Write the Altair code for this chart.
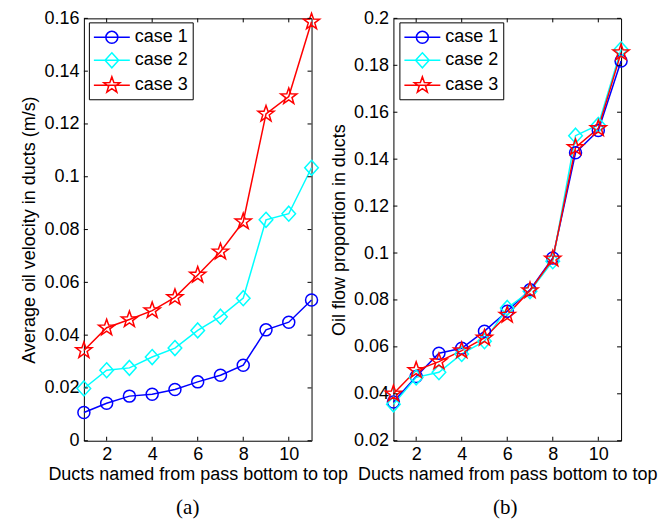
import math
import altair as alt
import pandas as pd

# ---------------- data ----------------
ducts = list(range(1, 12))
cases = ["case 1", "case 2", "case 3"]
colors = ["#0000ff", "#00ffff", "#ff0000"]

vel_case1 = [0.0107, 0.0142, 0.0169, 0.0176, 0.0194, 0.0223, 0.0248, 0.0286, 0.0420, 0.0449, 0.0533]
vel_case2 = [0.0198, 0.0267, 0.0276, 0.0317, 0.0351, 0.0418, 0.0470, 0.0540, 0.0837, 0.0860, 0.1034]
vel_case3 = [0.0342, 0.0428, 0.0459, 0.0493, 0.0543, 0.0628, 0.0716, 0.0830, 0.1238, 0.1304, 0.1587]

prop_case1 = [0.0365, 0.0474, 0.0573, 0.0594, 0.0667, 0.0752, 0.0843, 0.0979, 0.1427, 0.1522, 0.1818]
prop_case2 = [0.0355, 0.0470, 0.0492, 0.0570, 0.0624, 0.0766, 0.0837, 0.0965, 0.1500, 0.1546, 0.1868]
prop_case3 = [0.0400, 0.0500, 0.0537, 0.0584, 0.0638, 0.0736, 0.0840, 0.0975, 0.1450, 0.1531, 0.1854]

x_ticks = [2, 4, 6, 8, 10]
vel_ticks = [0, 0.02, 0.04, 0.06, 0.08, 0.1, 0.12, 0.14, 0.16]
prop_ticks = [0.02, 0.04, 0.06, 0.08, 0.1, 0.12, 0.14, 0.16, 0.18, 0.2]


def long_df(series):
    rows = []
    for c, vals in zip(cases, series):
        for d, v in zip(ducts, vals):
            rows.append({"duct": d, "case": c, "value": v})
    return pd.DataFrame(rows)


vel_df = long_df([vel_case1, vel_case2, vel_case3])
prop_df = long_df([prop_case1, prop_case2, prop_case3])

# ---------------- marker shapes (unit = 10 px at size 400) ----------------
def circle_path(cx, r):
    return (f"M{cx - r:.3f},0A{r},{r},0,1,0,{cx + r:.3f},0"
            f"A{r},{r},0,1,0,{cx - r:.3f},0Z")


def diamond_path(cx, w, h):
    return f"M{cx:.3f},{-h}L{cx + w:.3f},0L{cx:.3f},{h}L{cx - w:.3f},0Z"


def star_path(cx, R, r):
    pts = []
    for k in range(10):
        ang = -math.pi / 2 + k * math.pi / 5
        rad = R if k % 2 == 0 else r
        pts.append((cx + rad * math.cos(ang), rad * math.sin(ang)))
    return "M" + "L".join(f"{x:.3f},{y:.3f}" for x, y in pts) + "Z"


marker_paths = [circle_path(0, 0.6), diamond_path(0, 0.68, 0.75), star_path(0, 0.85, 0.34)]

# legend symbols: line through marker, shifted to the right of symbol slot
LC = 0.8  # marker centre in legend
line_seg = "M-1.5,0M-1,0L2.6,0"
legend_paths = [line_seg + circle_path(LC, 0.6),
                line_seg + diamond_path(LC, 0.68, 0.75),
                line_seg + star_path(LC, 0.85, 0.34)]

W, H = 228, 423
TICK = 4
FONT = "Liberation Sans"


def panel(df, ydom, yticks, ytitle, ytitle_pad, sub, sub_dx, leg_x, leg_y):
    xs = alt.Scale(domain=[1, 11], nice=False, zero=False)
    ys = alt.Scale(domain=ydom, nice=False, zero=False)
    xax = alt.Axis(values=x_ticks, ticks=False, domain=False, grid=False,
                   labelPadding=5, title="Ducts named from pass bottom to top",
                   titlePadding=2)
    yax = alt.Axis(values=yticks, format="~g", ticks=False, domain=False, grid=False,
                   labelPadding=5, title=ytitle, titlePadding=ytitle_pad)
    X = alt.X("duct:Q", scale=xs, axis=xax)
    Y = alt.Y("value:Q", scale=ys, axis=yax)

    legend = alt.Legend(orient="none", legendX=leg_x, legendY=leg_y, title=None,
                        fillColor="white", strokeColor="black", padding=4,
                        cornerRadius=0, labelFont=FONT, labelFontSize=18,
                        labelColor="black", labelOffset=20, symbolSize=400,
                        symbolStrokeWidth=1.5, rowPadding=2)

    base = alt.Chart(df)
    lines = base.mark_line(strokeWidth=1.5).encode(
        x=X, y=Y,
        color=alt.Color("case:N", scale=alt.Scale(domain=cases, range=colors), legend=None))
    pts = base.mark_point(filled=False, strokeWidth=1.5, size=400, opacity=1).encode(
        x=X, y=Y,
        color=alt.Color("case:N", scale=alt.Scale(domain=cases, range=colors), legend=None),
        shape=alt.Shape("case:N", scale=alt.Scale(domain=cases, range=marker_paths),
                        legend=None))
    leg = base.transform_filter("datum.duct < 0").mark_point(
        filled=False, strokeWidth=1.5, size=400, opacity=1).encode(
        x=X, y=Y,
        color=alt.Color("case:N", scale=alt.Scale(domain=cases, range=colors), legend=legend),
        shape=alt.Shape("case:N", scale=alt.Scale(domain=cases, range=legend_paths),
                        legend=legend))

    xt = alt.Chart(pd.DataFrame({"t": x_ticks}))
    yt = alt.Chart(pd.DataFrame({"t": yticks}))
    TX = alt.X("t:Q", scale=xs, axis=xax)
    TY = alt.Y("t:Q", scale=ys, axis=yax)
    tick_style = dict(color="black", strokeWidth=1)
    xb = xt.mark_rule(**tick_style).encode(x=TX, y=alt.value(H), y2=alt.value(H - TICK))
    xtop = xt.mark_rule(**tick_style).encode(x=TX, y=alt.value(0), y2=alt.value(TICK))
    yl = yt.mark_rule(**tick_style).encode(y=TY, x=alt.value(0), x2=alt.value(TICK))
    yr = yt.mark_rule(**tick_style).encode(y=TY, x=alt.value(W), x2=alt.value(W - TICK))

    return alt.layer(lines, pts, leg, xb, xtop, yl, yr).resolve_scale(
        shape="independent", color="independent").properties(
        width=W, height=H,
        title=alt.TitleParams(sub, orient="bottom", anchor="middle", font="Liberation Serif",
                              fontSize=21, fontWeight="normal", color="black",
                              dx=sub_dx, offset=13))


left = panel(vel_df, [0, 0.16], vel_ticks, "Average oil velocity in ducts (m/s)", 5,
             "(a)", -10, 5, 4)
right = panel(prop_df, [0.02, 0.2], prop_ticks, "Oil flow proportion in ducts", 5,
              "(b)", -2, 6, 4)

chart = alt.hconcat(left, right, spacing=82, bounds="flush").properties(
    padding={"left": 12, "top": 0, "right": 5, "bottom": 0},
    background="white",
).configure_view(stroke="black", strokeWidth=1).configure_axis(
    labelFont=FONT, labelFontSize=18, labelColor="black",
    titleFont=FONT, titleFontSize=18, titleFontWeight="normal", titleColor="black",
)

chart.save("out.html", embed_options={"renderer": "svg", "actions": False})
